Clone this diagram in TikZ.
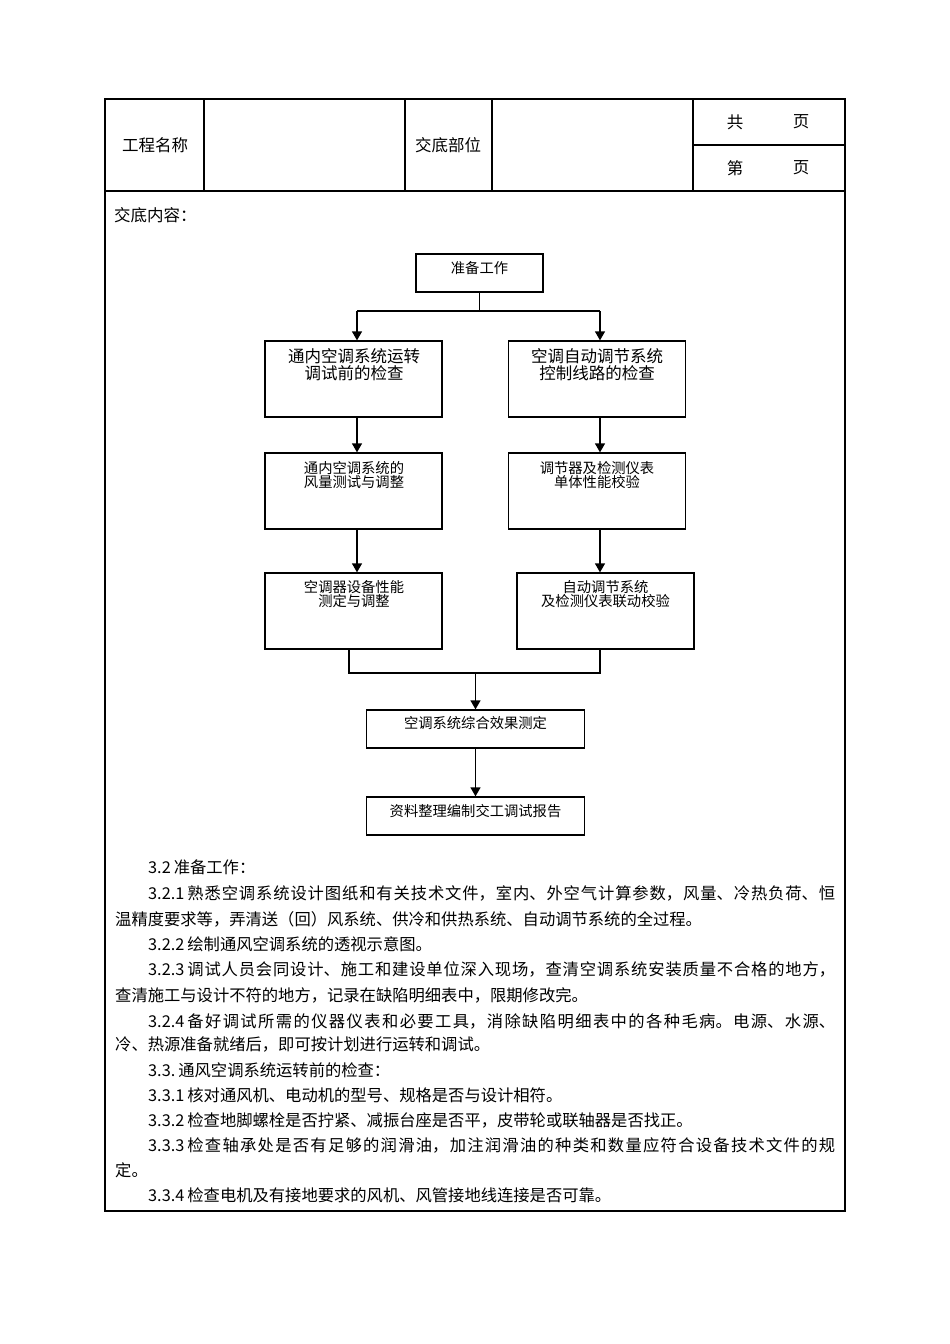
\documentclass[tikz,border=0pt]{standalone}
\usepackage{fontspec}
\setmainfont{Noto Sans CJK SC}
\usetikzlibrary{arrows.meta}
\newcommand\jline[1]{\parbox[b]{687pt}{\XeTeXlinebreaklocale "zh"\XeTeXlinebreakskip=0pt plus 4pt\relax\noindent\parfillskip=0pt\relax #1\par}}
\newcommand\nk{\kern3pt}
\begin{document}
\begin{tikzpicture}[x=1pt,y=-1pt,
  box/.style={draw, line width=1.3pt, minimum width=177pt, minimum height=76pt, inner sep=0pt},
  sbox/.style={draw, line width=1.3pt, inner sep=0pt, minimum width=218pt, minimum height=38pt},
  ftxt/.style={inner sep=0pt, align=center, font=\fontsize{14.3}{14.8}\selectfont},
  btxt/.style={inner sep=0pt, align=center, font=\fontsize{16.5}{17}\selectfont},
  ttxt/.style={inner sep=0pt, font=\fontsize{16.5}{18}\selectfont},
  body/.style={inner sep=0pt, anchor=base west, font=\fontsize{16.3}{20}\selectfont},
  arr/.style={-{Triangle[length=9pt,width=10pt]}, line width=1.3pt},
  conn/.style={line width=1.3pt}]
\useasboundingbox (0,0) rectangle (950,1344);
\fill[white] (0,0) rectangle (950,1344);
% table frame
\draw[line width=2pt] (105,99) rectangle (845,1211);
\draw[line width=1.5pt] (105,191) -- (845,191);
\foreach \xx in {204,405,492,693} \draw[line width=1.4pt] (\xx,99) -- (\xx,191);
\draw[line width=1.1pt] (693,145) -- (845,145);
\node[ttxt] (h1) at (155,145) {工程名称};
\node[ttxt] (h2) at (448,145) {交底部位};
\node[ttxt] (h3) at (735,122) {共};
\node[ttxt] (h4) at (801,122) {页};
\node[ttxt] (h5) at (735,168) {第};
\node[ttxt] (h6) at (801,168) {页};
\node[ttxt, anchor=base west] (h7) at (114,221) {交底内容：};
% flowchart boxes
\node[draw, line width=1.3pt, inner sep=0pt, minimum width=127pt, minimum height=38pt] (prep) at (479.5,273) {};
\node[ftxt] (tprep) at (479.5,268) {准备工作};
\node[box] (A1) at (353.5,379) {};
\node[btxt] (tA1) at (354,365) {通内空调系统运转\\调试前的检查};
\node[box] (B1) at (597,379) {};
\node[btxt] (tB1) at (597,365) {空调自动调节系统\\控制线路的检查};
\node[box] (A2) at (353.5,491) {};
\node[ftxt] (tA2) at (354,475) {通内空调系统的\\风量测试与调整};
\node[box] (B2) at (597,491) {};
\node[ftxt] (tB2) at (597,475) {调节器及检测仪表\\单体性能校验};
\node[box] (A3) at (353.5,611) {};
\node[ftxt] (tA3) at (354,594) {空调器设备性能\\测定与调整};
\node[box] (B3) at (605.5,611) {};
\node[ftxt] (tB3) at (605.5,594) {自动调节系统\\及检测仪表联动校验};
\node[sbox] (C1) at (475.5,729) {};
\node[ftxt] (tC1) at (475.5,723) {空调系统综合效果测定};
\node[sbox] (C2) at (475.5,816) {};
\node[ftxt] (tC2) at (475.5,811) {资料整理编制交工调试报告};
% connectors
\coordinate (bL) at (357,311);
\coordinate (bR) at (600,311);
\coordinate (bC) at (prep.south |- bL);
\draw[conn] (prep.south) -- (bC);
\draw[conn] (bL) -- (bR);
\draw[arr] (bL) -- (A1.north -| bL);
\draw[arr] (bR) -- (B1.north -| bR);
\draw[arr] (A1.south -| bL) -- (A2.north -| bL);
\draw[arr] (B1.south -| bR) -- (B2.north -| bR);
\draw[arr] (A2.south -| bL) -- (A3.north -| bL);
\draw[arr] (B2.south -| bR) -- (B3.north -| bR);
\coordinate (mL) at (349,673);
\coordinate (mR) at (600,673);
\coordinate (mC) at (C1.north |- mL);
\draw[conn] (A3.south -| mL) -- (mL) -- (mR) -- (B3.south -| mR);
\draw[arr] (mC) -- (C1.north);
\draw[arr] (C1.south) -- (C2.north);
% body text
\node[body] (l1) at (148,873.2) {3.2\nk 准备工作：};
\node[body] (l2) at (148,899.2) {\jline{3.2.1\nk 熟悉空调系统设计图纸和有关技术文件，室内、外空气计算参数，风量、冷热负荷、恒}};
\node[body] (l3) at (115,925.2) {温精度要求等，弄清送（回）风系统、供冷和供热系统、自动调节系统的全过程。};
\node[body] (l4) at (148,950.2) {3.2.2\nk 绘制通风空调系统的透视示意图。};
\node[body] (l5) at (148,975.2) {\jline{3.2.3\nk 调试人员会同设计、施工和建设单位深入现场，查清空调系统安装质量不合格的地方，}};
\node[body] (l6) at (115,1001.2) {查清施工与设计不符的地方，记录在缺陷明细表中，限期修改完。};
\node[body] (l7) at (148,1027.2) {\jline{3.2.4\nk 备好调试所需的仪器仪表和必要工具，消除缺陷明细表中的各种毛病。电源、水源、}};
\node[body] (l8) at (115,1050.2) {冷、热源准备就绪后，即可按计划进行运转和调试。};
\node[body] (l9) at (148,1076.2) {3.3.\nk 通风空调系统运转前的检查：};
\node[body] (l10) at (148,1101.2) {3.3.1\nk 核对通风机、电动机的型号、规格是否与设计相符。};
\node[body] (l11) at (148,1126.2) {3.3.2\nk 检查地脚螺栓是否拧紧、减振台座是否平，皮带轮或联轴器是否找正。};
\node[body] (l12) at (148,1151.2) {\jline{3.3.3\nk 检查轴承处是否有足够的润滑油，加注润滑油的种类和数量应符合设备技术文件的规}};
\node[body] (l13) at (115,1176.2) {定。};
\node[body] (l14) at (148,1201.2) {3.3.4\nk 检查电机及有接地要求的风机、风管接地线连接是否可靠。};
\end{tikzpicture}
\end{document}
